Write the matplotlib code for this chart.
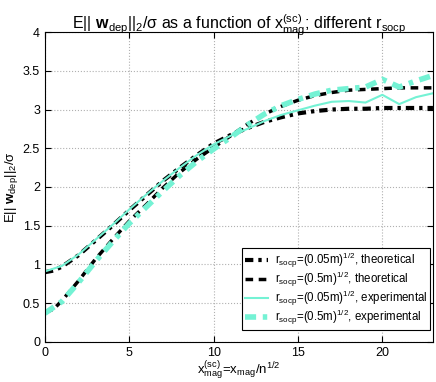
import numpy as np
import matplotlib
matplotlib.use("Agg")
import matplotlib.pyplot as plt

plt.rcParams['font.family'] = ['Liberation Sans', 'DejaVu Sans']
plt.rcParams['mathtext.fontset'] = 'custom'
plt.rcParams['mathtext.rm'] = 'Liberation Sans'
plt.rcParams['mathtext.it'] = 'Liberation Sans'
plt.rcParams['mathtext.bf'] = 'Liberation Sans:bold'

# theoretical curves
x_theo = [0, 0.5, 1, 2, 3, 4, 5, 6, 7, 8, 9, 10, 11, 12, 13, 14, 15, 16, 17, 18, 19, 20, 21, 22, 23]
theo_005 = [0.90, 0.92, 0.97, 1.12, 1.31, 1.50, 1.70, 1.89, 2.08, 2.25, 2.41, 2.56, 2.67, 2.76, 2.84,
            2.90, 2.95, 2.98, 3.00, 3.01, 3.01, 3.02, 3.02, 3.02, 3.02]
theo_05 = [0.38, 0.42, 0.53, 0.79, 1.07, 1.32, 1.56, 1.77, 1.99, 2.19, 2.36, 2.51, 2.66, 2.81, 2.94,
           3.04, 3.12, 3.18, 3.22, 3.25, 3.26, 3.27, 3.28, 3.28, 3.28]

# experimental curves
x_exp = [0, 1, 2, 3, 4, 5, 6, 7, 8, 9, 10, 11, 12, 13, 14, 15, 16, 17, 18, 19, 20, 21, 22, 23]
exp_005 = [0.91, 0.98, 1.13, 1.32, 1.51, 1.71, 1.90, 2.08, 2.25, 2.41, 2.55, 2.66, 2.75, 2.85,
           2.93, 2.99, 3.05, 3.10, 3.11, 3.09, 3.19, 3.07, 3.16, 3.21]
exp_05 = [0.37, 0.52, 0.77, 1.04, 1.29, 1.53, 1.74, 1.95, 2.15, 2.33, 2.49, 2.64, 2.80, 2.94,
          3.05, 3.13, 3.20, 3.25, 3.27, 3.29, 3.39, 3.29, 3.37, 3.44]

cyan = '#74f2d4'

fig = plt.figure(figsize=(4.36, 3.82), dpi=100)
ax = fig.add_axes([0.103, 0.105, 0.89, 0.811])

ax.plot(x_theo, theo_005, color='k', lw=3, linestyle=(0, (2.0, 1.2, 0.8, 1.2)),
        label=r'r$_{socp}$=(0.05m)$^{1/2}$, theoretical')
ax.plot(x_theo, theo_05, color='k', lw=2.5, linestyle=(0, (2.2, 1.6)),
        label=r'r$_{socp}$=(0.5m)$^{1/2}$, theoretical')
ax.plot(x_exp, exp_005, color=cyan, lw=1.5, linestyle='-',
        label=r'r$_{socp}$=(0.05m)$^{1/2}$, experimental')
ax.plot(x_exp, exp_05, color=cyan, lw=4, linestyle=(0, (2.0, 1.2, 0.8, 1.2)),
        label=r'r$_{socp}$=(0.5m)$^{1/2}$, experimental')

ax.set_xlim(0, 23)
ax.set_ylim(0, 4)
ax.set_xticks([0, 5, 10, 15, 20])
ax.set_yticks(np.arange(0, 4.01, 0.5))
ax.set_yticklabels(['0', '0.5', '1', '1.5', '2', '2.5', '3', '3.5', '4'])
ax.grid(True, linestyle=':', color='#b0b0b0', lw=0.8)
ax.tick_params(direction='in', top=True, right=True, labelsize=9, length=4)

ax.set_title(r'E|| $\mathbf{w}_{dep}$||$_2$/σ as a function of x$^{(sc)}_{mag}$; different r$_{socp}$',
             fontsize=11.5, pad=2)
ax.set_xlabel(r'x$^{(sc)}_{mag}$=x$_{mag}$/n$^{1/2}$', fontsize=9.5, labelpad=1)
ax.set_ylabel(r'E|| $\mathbf{w}_{dep}$||$_2$/σ', fontsize=9.5, labelpad=2)

leg = ax.legend(loc='lower right', bbox_to_anchor=(0.993, 0.038), fontsize=8.3,
                fancybox=False, framealpha=1, edgecolor='k', handlelength=2.0,
                handletextpad=0.6, borderaxespad=0, labelspacing=0.0, borderpad=0.25)
leg.get_frame().set_linewidth(0.8)

fig.savefig('out.png', dpi=100)
